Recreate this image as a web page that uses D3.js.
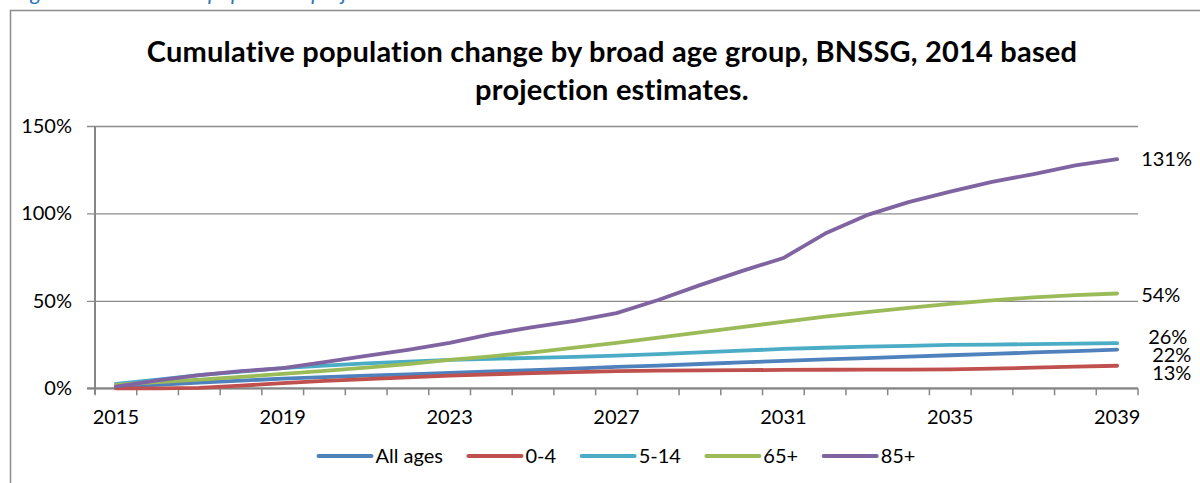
<!DOCTYPE html>
<html>
<head>
<meta charset="utf-8">
<script src="https://cdn.jsdelivr.net/npm/d3@7"></script>
<style>
  html, body { margin: 0; padding: 0; background: #fff; overflow: hidden; }
  svg { display: block; font-family: Lato, "Open Sans", sans-serif; }
</style>
</head>
<body>
<div id="chart"></div>
<script>
//Categories and tick labels
const years = ['2015','2016','2017','2018','2019','2020','2021','2022','2023','2024','2025','2026','2027',
  '2028','2029','2030','2031','2032','2033','2034','2035','2036','2037','2038','2039'];
const yearLabels = ['2015','2019','2023','2027','2031','2035','2039'];
const yTicks = [0, 50, 100, 150];

//Cumulative change (%) per series
const allAges = [0.8, 2, 3.2, 4.4, 5.5, 6.4, 7.2, 8, 8.8, 9.6, 10.4, 11.3, 12.2, 13, 13.9, 14.8, 15.7, 16.5, 17.3, 18.1, 18.9, 19.7, 20.5, 21.3, 22.1];
const age0to4 = [0, 0, 0.3, 1.5, 3, 4.2, 5.3, 6.3, 7.2, 8, 8.7, 9.3, 9.8, 10.1, 10.3, 10.4, 10.5, 10.6, 10.7, 10.7, 10.8, 11.2, 11.8, 12.4, 12.9];
const age5to14 = [2.5, 5, 7.5, 9.5, 11.5, 13, 14.3, 15.3, 16.2, 16.8, 17.4, 18, 18.7, 19.5, 20.5, 21.5, 22.5, 23.2, 23.8, 24.3, 24.8, 25, 25.3, 25.6, 25.8];
const age65plus = [2, 3.5, 5, 6.5, 8.3, 10, 11.8, 13.8, 16.2, 18.3, 20.6, 23.2, 26, 29, 32, 35, 38, 41, 43.5, 46, 48.3, 50.3, 52, 53.3, 54.2];
const age85plus = [1, 4.5, 7.5, 9.8, 11.5, 15, 18.5, 22, 26, 31, 35, 38.5, 43, 50.5, 59, 67, 74.5, 88.5, 99, 106.5, 112.5, 118, 122.5, 127.5, 131];

const seriesNames = ['All ages', '0-4', '5-14', '65+', '85+'];
const seriesValues = [allAges, age0to4, age5to14, age65plus, age85plus];
const seriesColors = ['#4F81BD', '#C0504D', '#4BACC6', '#9BBB59', '#8064A2'];
//Manual nudges of the end labels (dx, dy) like in the original
const labelNudge = { 'All ages': [35, 5], '0-4': [35, 7], '5-14': [31, -6], '65+': [24, 1], '85+': [24, 0] };

//Chart dimensions
const width = 1200;
const height = 483;
const plot = { left: 95, right: 1138, top: 126, bottom: 388.3 };

const svg = d3.select('#chart')
  .append('svg')
  .attr('width', width)
  .attr('height', height);

//Caption above the chart, mostly cut off by the page edge
svg.append('text')
  .attr('x', 14)
  .attr('y', 0)
  .attr('fill', '#2E75B6')
  .style('font-style', 'italic')
  .style('font-size', '22px')
  .text('Figure 5: Cumulative population projections');

//Chart border
svg.append('rect')
  .attr('x', 10.5)
  .attr('y', 10.5)
  .attr('width', 1300)
  .attr('height', 600)
  .attr('fill', 'none')
  .attr('stroke', '#8c8c8c')
  .attr('stroke-width', 1.5);

//Title
const title = svg.append('text')
  .attr('text-anchor', 'middle')
  .attr('font-weight', 'bold')
  .style('font-size', '29px')
  .style('letter-spacing', '0.2px')
  .attr('fill', '#000');
title.append('tspan').attr('x', 612).attr('y', 62)
  .text('Cumulative population change by broad age group, BNSSG, 2014 based');
title.append('tspan').attr('x', 612).attr('y', 100)
  .text('projection estimates.');

//Scales
const x = d3.scaleBand()
  .domain(years)
  .range([plot.left, plot.right]);
const y = d3.scaleLinear()
  .domain([0, 150])
  .range([plot.bottom, plot.top]);
const cx = d => x(d) + x.bandwidth() / 2;

//Y axis with gridlines
const yAxis = svg.append('g')
  .attr('transform', `translate(${plot.left - 8}, 0)`)
  .call(d3.axisLeft(y)
    .tickValues(yTicks)
    .tickSize(-(plot.right - plot.left + 8))
    .tickPadding(15)
    .tickFormat(d => d + '%'));
yAxis.select('.domain').remove();
yAxis.selectAll('line')
  .attr('stroke', '#8c8c8c')
  .attr('stroke-width', 1.3);
yAxis.selectAll('text')
  .attr('fill', '#000')
  .style('font-size', '20px')
  .style('font-family', 'Lato, sans-serif');

//Axis lines
svg.append('line')
  .attr('x1', plot.left).attr('x2', plot.left)
  .attr('y1', plot.top).attr('y2', plot.bottom + 6)
  .attr('stroke', '#868686')
  .attr('stroke-width', 2);
svg.append('line')
  .attr('x1', plot.left - 8).attr('x2', plot.right)
  .attr('y1', plot.bottom).attr('y2', plot.bottom)
  .attr('stroke', '#868686')
  .attr('stroke-width', 2);

//X tick marks between categories
svg.append('g')
  .selectAll('line')
  .data(years.map(d => x(d)).concat([plot.right]))
  .join('line')
  .attr('x1', d => d).attr('x2', d => d)
  .attr('y1', plot.bottom).attr('y2', plot.bottom + 7)
  .attr('stroke', '#868686')
  .attr('stroke-width', 1.5);

//X axis labels
const xAxis = svg.append('g')
  .attr('transform', `translate(0, ${plot.bottom})`)
  .call(d3.axisBottom(x)
    .tickValues(yearLabels)
    .tickSize(0)
    .tickPadding(22));
xAxis.select('.domain').remove();
xAxis.selectAll('text')
  .attr('fill', '#000')
  .style('font-size', '20px')
  .style('font-family', 'Lato, sans-serif');

//Lines
const lineGenerator = d3.line()
  .x((d, i) => cx(years[i]))
  .y(d => y(d));
svg.append('g')
  .selectAll('path')
  .data(seriesValues)
  .join('path')
  .attr('fill', 'none')
  .attr('stroke', (d, i) => seriesColors[i])
  .attr('stroke-width', 3.8)
  .attr('stroke-linejoin', 'round')
  .attr('stroke-linecap', 'round')
  .attr('d', lineGenerator);

//End value labels
const last = years[years.length - 1];
svg.append('g')
  .selectAll('text')
  .data(seriesValues)
  .join('text')
  .attr('x', (d, i) => cx(last) + labelNudge[seriesNames[i]][0])
  .attr('y', (d, i) => y(d[d.length - 1]) + labelNudge[seriesNames[i]][1])
  .attr('dy', '0.35em')
  .attr('fill', '#000')
  .style('font-size', '20px')
  .text(d => Math.round(d[d.length - 1]) + '%');

//Legend
const legend = svg.append('g');
const items = legend.selectAll('g')
  .data(seriesNames)
  .join('g');
items.append('line')
  .attr('x1', 0).attr('x2', 53)
  .attr('y1', 0).attr('y2', 0)
  .attr('stroke', (d, i) => seriesColors[i])
  .attr('stroke-width', 4)
  .attr('stroke-linecap', 'round');
items.append('text')
  .attr('x', 57)
  .attr('dy', '0.35em')
  .attr('fill', '#000')
  .style('font-size', '20px')
  .text(d => d);
//Lay the legend items out in a centred row
let offset = 0;
const widths = [];
items.each(function() {
  const w = 57 + this.querySelector('text').getComputedTextLength();
  widths.push(w);
});
const total = d3.sum(widths) + 25.5 * (widths.length - 1);
items.attr('transform', (d, i) => {
  const t = `translate(${617 - total / 2 + offset}, 456)`;
  offset += widths[i] + 25.5;
  return t;
});
</script>
</body>
</html>
